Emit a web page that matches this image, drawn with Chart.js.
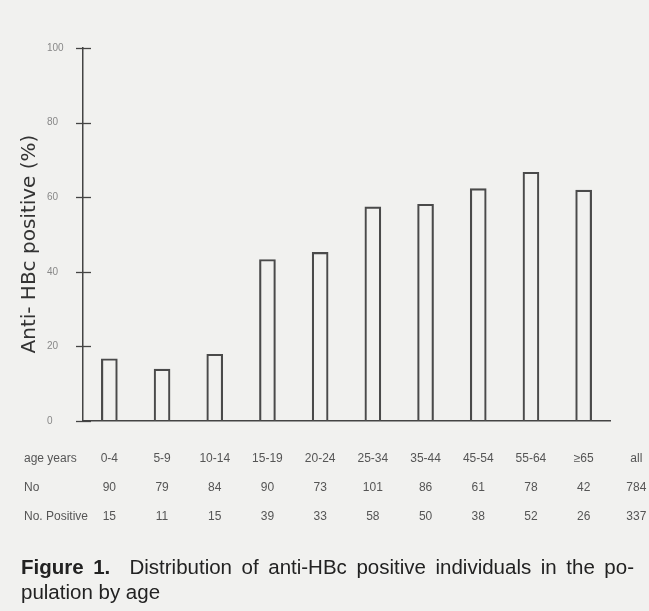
<!DOCTYPE html>
<html><head><meta charset="utf-8">
<script src="https://cdn.jsdelivr.net/npm/chart.js@4/dist/chart.umd.min.js"></script>
<style>
html,body{margin:0;padding:0;background:#f1f1ef;width:649px;height:611px;overflow:hidden}
#wrap{position:relative;width:649px;height:611px}
canvas{position:absolute;left:0;top:0}
#cap{position:absolute;left:21px;top:554px;width:613px;font-family:"Liberation Sans",Arial,sans-serif;font-size:20.5px;line-height:25px;color:#222}
#cap .l1{text-align:justify;text-align-last:justify;white-space:nowrap}
</style></head>
<body><div id="wrap"><canvas id="c" width="649" height="611"></canvas>
<div id="cap"><div class="l1"><b>Figure 1.</b>&nbsp; Distribution of anti-HBc positive individuals in the po-</div><div>pulation by age</div></div></div>
<script>
const ageGroups = ['0-4','5-9','10-14','15-19','20-24','25-34','35-44','45-54','55-64','≥65'];
const percentPositive = [16.7, 13.9, 17.9, 43.3, 45.2, 57.4, 58.1, 62.3, 66.7, 61.9];
const numberTested = [90, 79, 84, 90, 73, 101, 86, 61, 78, 42];
const numberPositive = [15, 11, 15, 39, 33, 58, 50, 38, 52, 26];
const allLabel = 'all';
const allTested = 784;
const allPositive = 337;
const rowLabels = ['age years', 'No', 'No. Positive'];
const yAxisTitle = 'Anti- HBc positive (%)   ';

const axisColor = '#444';
const tableFont = '12px "Liberation Sans", Arial, sans-serif';

const crossTicks = {
  id: 'crossTicks',
  afterDraw(chart) {
    const y = chart.scales.y, ctx = chart.ctx, left = chart.chartArea.left;
    ctx.save();
    ctx.strokeStyle = axisColor; ctx.lineWidth = 1.3;
    y.ticks.forEach(t => {
      const py = Math.round(y.getPixelForValue(t.value)) + 0.5;
      ctx.beginPath(); ctx.moveTo(left - 7, py); ctx.lineTo(left + 8, py); ctx.stroke();
    });
    ctx.restore();
  }
};

const table = {
  id: 'table',
  afterDraw(chart) {
    const x = chart.scales.x, ctx = chart.ctx, bottom = chart.chartArea.bottom;
    const rowsY = [bottom + 38, bottom + 67, bottom + 96];
    const rows = [ageGroups, numberTested, numberPositive];
    const extra = [allLabel, allTested, allPositive];
    const step = x.getPixelForValue(1) - x.getPixelForValue(0);
    const allX = x.getPixelForValue(ageGroups.length - 1) + step;
    ctx.save();
    ctx.font = tableFont; ctx.fillStyle = '#555'; ctx.textBaseline = 'middle';
    rows.forEach((row, r) => {
      ctx.textAlign = 'left';
      ctx.fillText(rowLabels[r], 24, rowsY[r]);
      ctx.textAlign = 'center';
      row.forEach((v, i) => ctx.fillText(String(v), x.getPixelForValue(i), rowsY[r]));
      ctx.fillText(String(extra[r]), allX, rowsY[r]);
    });
    ctx.restore();
  }
};

new Chart(document.getElementById('c'), {
  type: 'bar',
  data: {
    labels: ageGroups,
    datasets: [{
      data: percentPositive,
      backgroundColor: 'rgba(0,0,0,0)',
      borderColor: '#4a4a4a',
      borderWidth: 1.5,
      barThickness: 16
    }]
  },
  options: {
    responsive: false,
    animation: false,
    devicePixelRatio: 1,
    layout: { padding: { top: 48, right: 39, bottom: 0, left: 47 } },
    plugins: { legend: { display: false }, tooltip: { enabled: false } },
    scales: {
      x: {
        grid: { display: false, drawTicks: false },
        border: { display: true, color: axisColor, width: 1.5 },
        ticks: { display: false },
        afterFit(s) { s.height = 190; }
      },
      y: {
        min: 0, max: 100,
        grid: { display: false, drawTicks: false },
        border: { display: true, color: axisColor, width: 1.5 },
        ticks: { stepSize: 20, padding: 18, crossAlign: 'far', color: '#888', font: { family: '"Liberation Sans", Arial, sans-serif', size: 10 } },
        title: { display: true, text: yAxisTitle, color: '#333', padding: { top: -29, bottom: 0 }, font: { family: '"DejaVu Sans", sans-serif', size: 20 } },
        afterFit(s) { s.width = 36; }
      }
    }
  },
  plugins: [crossTicks, table]
});
</script>
</body></html>
